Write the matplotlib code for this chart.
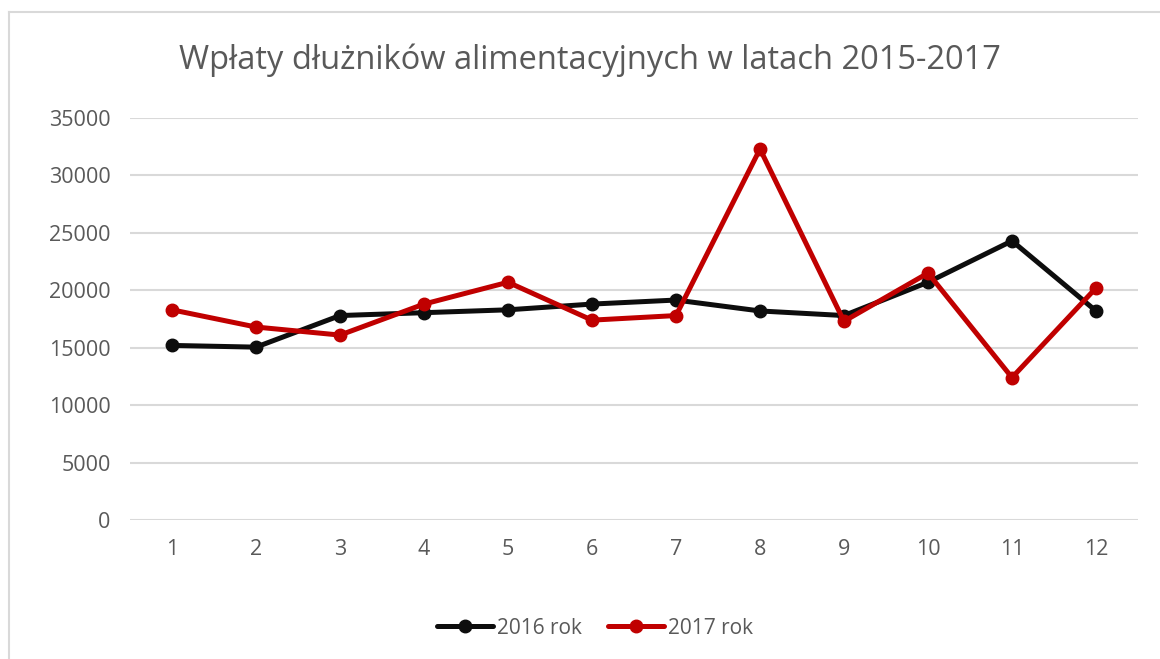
import matplotlib.pyplot as plt
from matplotlib.lines import Line2D

# monthly payments
months = list(range(1, 13))
payments_2016 = [15200, 15050, 17800, 18050, 18300, 18800, 19150, 18200, 17800, 20700, 24300, 18200]
payments_2017 = [18300, 16800, 16100, 18800, 20700, 17400, 17800, 32300, 17300, 21500, 12400, 20200]
series_labels = ['2016 rok', '2017 rok']
title = 'Wpłaty dłużników alimentacyjnych w latach 2015-2017'

plt.rcParams['font.family'] = ['Open Sans', 'DejaVu Sans']
text_color = '#595959'

fig = plt.figure(figsize=(11.6, 6.59), dpi=100)
ax = fig.add_axes([130 / 1160, 1 - 520 / 659, 1008 / 1160, 402 / 659])

ax.plot(months, payments_2016, color='#0d0d0d', lw=3.6, marker='o', ms=9,
        label=series_labels[0], solid_capstyle='round', zorder=3)
ax.plot(months, payments_2017, color='#c00000', lw=3.6, marker='o', ms=9,
        label=series_labels[1], solid_capstyle='round', zorder=4)

ax.set_xlim(0.5, 12.5)
ax.set_ylim(0, 35000)
ax.set_xticks(months)
ax.set_yticks(range(0, 35001, 5000))
ax.grid(axis='y', color='#d9d9d9', lw=1.5)
ax.set_axisbelow(True)
for s in ax.spines.values():
    s.set_visible(False)
ax.tick_params(length=0, labelsize=15.5, colors=text_color)
ax.tick_params(axis='y', pad=14)
ax.tick_params(axis='x', pad=14)

fig.text(590 / 1160, 1 - 60 / 659, title, ha='center', va='center',
         fontsize=23.5, color=text_color)

leg = fig.legend(loc='center', bbox_to_anchor=(595 / 1160, 1 - 628 / 659), ncol=2,
                 frameon=False, fontsize=15, handlelength=2.7, handletextpad=0.2,
                 columnspacing=1.25)
for t in leg.get_texts():
    t.set_color(text_color)

# chart border
fig.add_artist(Line2D([9 / 1160, 9 / 1160], [0, 1 - 12 / 659], color='#d9d9d9', lw=1.5))
fig.add_artist(Line2D([9 / 1160, 1], [1 - 12 / 659, 1 - 12 / 659], color='#d9d9d9', lw=1.5))

fig.savefig('out.png', dpi=100)
